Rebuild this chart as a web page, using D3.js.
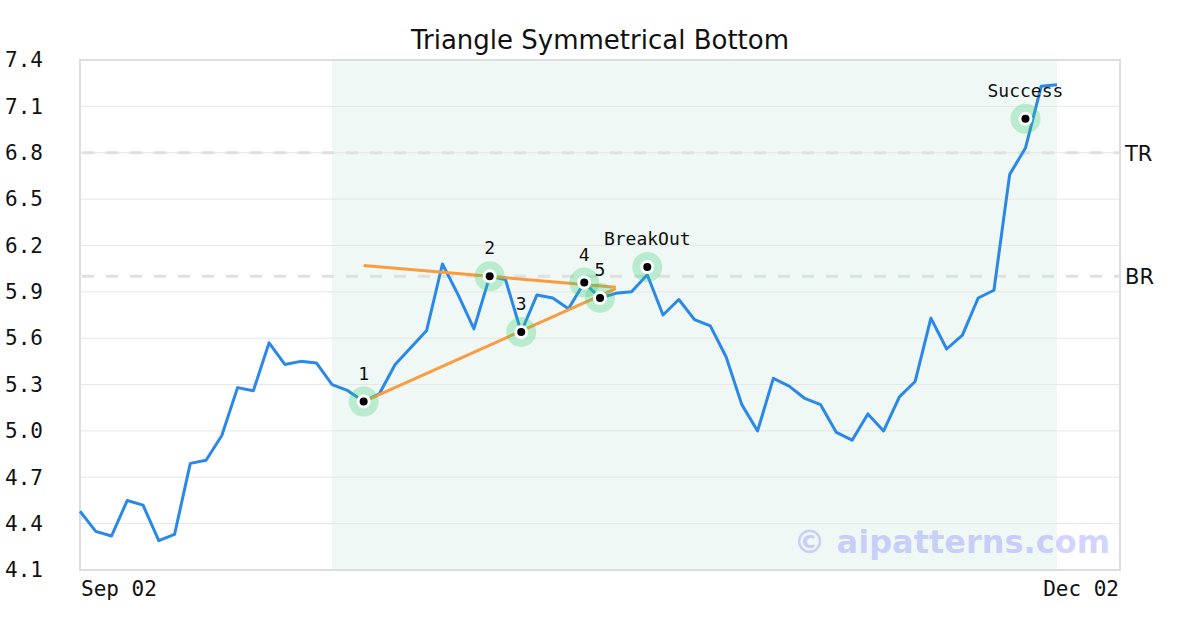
<!DOCTYPE html>
<html>
<head>
<meta charset="utf-8">
<script src="https://cdn.jsdelivr.net/npm/d3@7"></script>
<style>
  html, body { margin: 0; padding: 0; background: #fff; }
  svg { display: block; }
</style>
</head>
<body>
<svg id="chart" width="1200" height="630"></svg>
<script>
// ---------- data ----------
const title = "Triangle Symmetrical Bottom";
const xLabels = ["Sep 02", "Dec 02"];
const prices = [
  4.48, 4.35, 4.32, 4.55, 4.52, 4.29, 4.33, 4.79, 4.81, 4.97,
  5.28, 5.26, 5.57, 5.43, 5.45, 5.44, 5.30, 5.26, 5.19, 5.24,
  5.43, 5.54, 5.65, 6.08, 5.88, 5.66, 6.00, 5.98, 5.64, 5.88,
  5.86, 5.79, 5.96, 5.86, 5.89, 5.90, 6.01, 5.75, 5.85, 5.72,
  5.68, 5.48, 5.17, 5.00, 5.34, 5.29, 5.21, 5.17, 4.99, 4.94,
  5.11, 5.00, 5.22, 5.32, 5.73, 5.53, 5.62, 5.86, 5.91, 6.66,
  6.83, 7.23, 7.24
];
const yTicks = [4.1, 4.4, 4.7, 5.0, 5.3, 5.6, 5.9, 6.2, 6.5, 6.8, 7.1, 7.4];
const pointIdx   = [18, 26, 28, 32, 33, 36, 60];
const pointVal   = [5.19, 6.00, 5.64, 5.96, 5.86, 6.06, 7.02];
const pointLabel = ["1", "2", "3", "4", "5", "BreakOut", "Success"];
const upperTrend = [[18, 6.07], [34, 5.93]];
const lowerTrend = [[18, 5.19], [34, 5.92]];
const refNames  = ["BR", "TR"];
const refValues = [6.0, 6.8];
const bandRange = [16, 62];
const watermark = "\u00A9 aipatterns.com";

// ---------- layout ----------
const svg = d3.select("#chart");
const L = 80, R = 1120, T = 60, B = 570;
const x = d3.scaleLinear().domain([0, 66]).range([L, R]);
const y = d3.scaleLinear().domain([4.1, 7.4]).range([B, T]);

// band
svg.append("rect")
  .attr("x", x(bandRange[0])).attr("y", T)
  .attr("width", x(bandRange[1]) - x(bandRange[0])).attr("height", B - T)
  .attr("fill", "#eff8f4");

// grid
svg.append("g").selectAll("line").data(yTicks).join("line")
  .attr("x1", L).attr("x2", R)
  .attr("y1", d => y(d)).attr("y2", d => y(d))
  .attr("stroke", "#e6e6e6").attr("stroke-width", 1);

// y axis labels
const yAxis = d3.axisLeft(y).tickValues(yTicks).tickFormat(d3.format(".1f"))
  .tickSize(0).tickPadding(37);
const gy = svg.append("g").attr("transform", `translate(${L},0)`).call(yAxis);
gy.select(".domain").remove();
gy.selectAll("text").attr("font-family", "DejaVu Sans Mono").attr("font-size", 21)
  .attr("fill", "#111");

// x labels
svg.append("text").attr("x", x(0) + 1).attr("y", 596)
  .attr("font-family", "DejaVu Sans Mono").attr("font-size", 21).attr("fill", "#111")
  .text(xLabels[0]);
svg.append("text").attr("x", R - 1).attr("y", 596).attr("text-anchor", "end")
  .attr("font-family", "DejaVu Sans Mono").attr("font-size", 21).attr("fill", "#111")
  .text(xLabels[1]);

// reference lines
refValues.forEach((v, i) => {
  svg.append("line").attr("x1", L + 2).attr("x2", R).attr("y1", y(v)).attr("y2", y(v))
    .attr("stroke", "#e0e0e0").attr("stroke-width", 3).attr("stroke-dasharray", "12,12");
  svg.append("text").attr("x", 1125).attr("y", y(v) + 8)
    .attr("font-family", "DejaVu Sans").attr("font-size", 21).attr("fill", "#111")
    .text(refNames[i]);
});

// watermark
svg.append("text").attr("x", 1110).attr("y", 553).attr("text-anchor", "end")
  .attr("font-family", "DejaVu Sans").attr("font-weight", "bold").attr("font-size", 32)
  .attr("fill", "rgba(100,100,255,0.3)").text(watermark);

// frame
svg.append("rect").attr("x", L).attr("y", T).attr("width", R - L).attr("height", B - T)
  .attr("fill", "none").attr("stroke", "#dddddd").attr("stroke-width", 2);

// price line
const line = d3.line().x((d, i) => x(i)).y(d => y(d));
svg.append("path").datum(prices).attr("d", line)
  .attr("fill", "none").attr("stroke", "#2a88e8").attr("stroke-width", 3)
  .attr("stroke-linejoin", "round");

// trend lines
const tline = d3.line().x(d => x(d[0])).y(d => y(d[1]));
[upperTrend, lowerTrend].forEach(t => {
  svg.append("path").datum(t).attr("d", tline)
    .attr("fill", "none").attr("stroke", "#f99b3e").attr("stroke-width", 3);
});

// markers
const pts = pointIdx.map((d, i) => ({ i: d, v: pointVal[i], label: pointLabel[i] }));
const gm = svg.append("g");
gm.selectAll("circle.halo").data(pts).join("circle").attr("class", "halo")
  .attr("cx", d => x(d.i)).attr("cy", d => y(d.v)).attr("r", 15)
  .attr("fill", "#2ecc71").attr("fill-opacity", 0.28);
gm.selectAll("circle.inner").data(pts).join("circle").attr("class", "inner")
  .attr("cx", d => x(d.i)).attr("cy", d => y(d.v)).attr("r", 7)
  .attr("fill", "#fff");
gm.selectAll("circle.dot").data(pts).join("circle").attr("class", "dot")
  .attr("cx", d => x(d.i)).attr("cy", d => y(d.v)).attr("r", 4)
  .attr("fill", "#000");
gm.selectAll("text").data(pts).join("text")
  .attr("x", d => x(d.i)).attr("y", d => y(d.v) - 22).attr("text-anchor", "middle")
  .attr("font-family", "DejaVu Sans Mono").attr("font-size", 18).attr("fill", "#111")
  .text(d => d.label);

// title
svg.append("text").attr("x", 600).attr("y", 49).attr("text-anchor", "middle")
  .attr("font-family", "DejaVu Sans").attr("font-size", 26).attr("fill", "#111")
  .text(title);
</script>
</body>
</html>
